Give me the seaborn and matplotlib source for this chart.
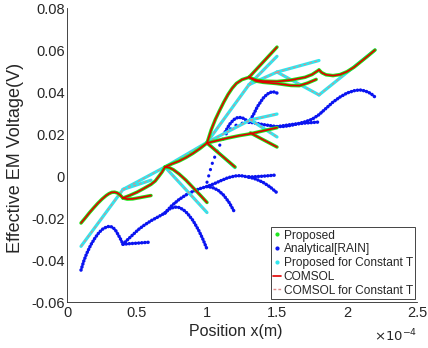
import numpy as np
import pandas as pd
import matplotlib
matplotlib.use("Agg")
import matplotlib.pyplot as plt
import seaborn as sns
from matplotlib.lines import Line2D
from matplotlib.ticker import FuncFormatter

# ---------------- data (x in units of 1e-4 m, y in V) ----------------
X_UNIT = 1e-4

# varying temperature tree: "Proposed" (green markers) and "COMSOL" (red line)
varT_segments = [
    [(0.10, -0.0224), (0.13, -0.0200), (0.16, -0.0175), (0.19, -0.0152), (0.22, -0.0130),
     (0.25, -0.0110), (0.28, -0.0093), (0.30, -0.0084), (0.32, -0.0078), (0.34, -0.0077),
     (0.36, -0.0081), (0.38, -0.0091), (0.40, -0.0105)],
    [(0.40, -0.0105), (0.43, -0.0110), (0.47, -0.0109), (0.52, -0.0103), (0.56, -0.0098),
     (0.60, -0.0093)],
    [(0.40, -0.0105), (0.45, -0.0092), (0.50, -0.0077), (0.55, -0.0059), (0.60, -0.0040),
     (0.63, -0.0024), (0.66, 0.0002), (0.68, 0.0020), (0.70, 0.0043)],
    [(0.70, 0.0043), (0.73, 0.0040), (0.76, 0.0030), (0.80, 0.0010), (0.85, -0.0020),
     (0.90, -0.0055), (0.95, -0.0090), (1.00, -0.0126)],
    [(0.70, 0.0043), (0.75, 0.0058), (0.80, 0.0071), (0.85, 0.0088), (0.90, 0.0108),
     (0.95, 0.0131), (1.00, 0.0157)],
    [(1.00, 0.0157), (1.20, 0.0043)],
    [(1.00, 0.0157), (1.03, 0.0220), (1.06, 0.0270), (1.09, 0.0312), (1.12, 0.0352),
     (1.15, 0.0388), (1.18, 0.0418), (1.21, 0.0441), (1.25, 0.0459), (1.30, 0.0470)],
    [(1.30, 0.0470), (1.50, 0.0614)],
    [(1.30, 0.0470), (1.35, 0.0457), (1.40, 0.0452), (1.50, 0.0450), (1.60, 0.0457),
     (1.70, 0.0470), (1.75, 0.0483), (1.80, 0.0505)],
    [(1.30, 0.0470), (1.35, 0.0452), (1.40, 0.0446), (1.50, 0.0440), (1.60, 0.0431),
     (1.66, 0.0430), (1.72, 0.0443), (1.78, 0.0460)],
    [(1.80, 0.0505), (1.82, 0.0492), (1.85, 0.0482), (1.90, 0.0478), (1.95, 0.0483),
     (2.00, 0.0497), (2.05, 0.0518), (2.10, 0.0545), (2.15, 0.0572), (2.20, 0.0600)],
    [(1.00, 0.0157), (1.08, 0.0170), (1.15, 0.0181), (1.23, 0.0192), (1.31, 0.0201),
     (1.40, 0.0215), (1.50, 0.0230)],
    [(1.31, 0.0205), (1.50, 0.0138)],
]

# constant temperature tree: "Proposed for Constant T" (cyan) and "COMSOL for Constant T" (dashed)
constT_segments = [
    [(0.10, -0.0335), (0.40, -0.0064)],
    [(0.40, -0.0064), (0.70, 0.0043)],
    [(0.40, -0.0064), (0.60, -0.0020)],
    [(0.70, 0.0043), (1.00, -0.0174)],
    [(0.70, 0.0043), (1.00, 0.0160)],
    [(1.00, 0.0160), (1.20, 0.0040)],
    [(1.00, 0.0160), (1.30, 0.0435)],
    [(1.30, 0.0435), (1.50, 0.0570)],
    [(1.30, 0.0435), (1.50, 0.0495)],
    [(1.50, 0.0495), (1.80, 0.0550)],
    [(1.50, 0.0495), (1.80, 0.0386)],
    [(1.80, 0.0386), (2.20, 0.0600)],
    [(1.00, 0.0160), (1.31, 0.0267)],
    [(1.31, 0.0267), (1.50, 0.0295)],
    [(1.31, 0.0267), (1.50, 0.0186)],
]

# analytical [RAIN] (blue dots)
rain_segments = [
    [(0.10, -0.0448), (0.12, -0.0405), (0.14, -0.0370), (0.17, -0.0328), (0.20, -0.0295),
     (0.23, -0.0268), (0.26, -0.0250), (0.29, -0.0241), (0.31, -0.0240), (0.33, -0.0246),
     (0.35, -0.0262), (0.37, -0.0285), (0.39, -0.0310), (0.40, -0.0325)],
    [(0.40, -0.0325), (0.45, -0.0322), (0.50, -0.0320), (0.55, -0.0317), (0.60, -0.0315)],
    [(0.40, -0.0325), (0.43, -0.0305), (0.47, -0.0280), (0.51, -0.0255), (0.55, -0.0235),
     (0.60, -0.0213), (0.65, -0.0195), (0.70, -0.0176)],
    [(0.70, -0.0176), (0.72, -0.0163), (0.74, -0.0154), (0.77, -0.0148), (0.80, -0.0150),
     (0.83, -0.0160), (0.86, -0.0178), (0.90, -0.0212), (0.94, -0.0258), (0.97, -0.0300),
     (1.00, -0.0348)],
    [(0.70, -0.0176), (0.75, -0.0140), (0.80, -0.0112), (0.85, -0.0090), (0.90, -0.0073),
     (0.95, -0.0060), (1.00, -0.0050), (1.05, -0.0037), (1.10, -0.0022), (1.15, -0.0008),
     (1.20, 0.0000), (1.24, 0.0002), (1.27, -0.0002), (1.30, -0.0005)],
    [(1.00, -0.0050), (1.04, -0.0055), (1.08, -0.0068), (1.12, -0.0092), (1.16, -0.0128),
     (1.20, -0.0176)],
    [(1.30, -0.0005), (1.35, -0.0003), (1.40, -0.0001), (1.45, 0.0002), (1.50, 0.0005)],
    [(1.30, -0.0005), (1.35, -0.0015), (1.40, -0.0030), (1.45, -0.0052), (1.50, -0.0080)],
    [(1.13, 0.0210), (1.16, 0.0245), (1.19, 0.0268), (1.22, 0.0279), (1.25, 0.0278),
     (1.28, 0.0266), (1.30, 0.0257)],
    [(1.30, 0.0257), (1.33, 0.0290), (1.36, 0.0330), (1.40, 0.0370), (1.43, 0.0390),
     (1.46, 0.0400), (1.48, 0.0400), (1.50, 0.0395)],
    [(1.30, 0.0257), (1.35, 0.0251), (1.40, 0.0245), (1.45, 0.0240), (1.50, 0.0235)],
    [(1.50, 0.0235), (1.55, 0.0236), (1.60, 0.0241), (1.65, 0.0249), (1.70, 0.0258),
     (1.75, 0.0270), (1.80, 0.0292), (1.85, 0.0322), (1.90, 0.0352), (1.95, 0.0376),
     (2.00, 0.0395), (2.05, 0.0406), (2.09, 0.0410), (2.13, 0.0405), (2.17, 0.0393),
     (2.20, 0.0376)],
    [(1.50, 0.0235), (1.60, 0.0245), (1.70, 0.0252), (1.80, 0.0257)],
]
# steep analytical branch (sparse dots)
rain_steep_segment = [(1.00, -0.0030), (1.02, 0.0020), (1.04, 0.0065), (1.07, 0.0115),
                      (1.10, 0.0160), (1.13, 0.0195), (1.17, 0.0225), (1.21, 0.0243),
                      (1.26, 0.0253), (1.30, 0.0257)]

x_ticks = [0, 0.5, 1, 1.5, 2, 2.5]
y_ticks = [-0.06, -0.04, -0.02, 0, 0.02, 0.04, 0.06, 0.08]
y_tick_labels = ["-0.06", "-0.04", "-0.02", "0", "0.02", "0.04", "0.06", "0.08"]
legend_labels = ["Proposed", "Analytical[RAIN]", "Proposed for Constant T", "COMSOL",
                 "COMSOL for Constant T"]


def to_frame(segments):
    rows = []
    for i, seg in enumerate(segments):
        for j, (x, y) in enumerate(seg):
            rows.append({"seg": i, "order": j, "x": x * X_UNIT, "y": y})
    return pd.DataFrame(rows)


df_var = to_frame(varT_segments)
df_const = to_frame(constT_segments)
df_rain = to_frame(rain_segments)
df_steep = to_frame([rain_steep_segment])

sns.set_style("white")
plt.rcParams["font.family"] = ["Liberation Sans", "DejaVu Sans"]

fig = plt.figure(figsize=(4.28, 3.48), dpi=100)
ax = fig.add_axes([67 / 428, 1 - 302 / 348, 350 / 428, 294 / 348])

C_GREEN = "#1ee61e"
C_RED = "#e00000"
C_CYAN = "#30e6ee"
C_BLUE = "#0a14f0"
C_PINK = "#e08888"

common = dict(x="x", y="y", units="seg", estimator=None, sort=False, ax=ax, legend=False)

# analytical blue dots
sns.lineplot(data=df_rain, color=C_BLUE, lw=2.5, linestyle=(0, (0.05, 0.85)), zorder=2, **common)
sns.lineplot(data=df_steep, color=C_BLUE, lw=2.3, linestyle=(0, (0.05, 2.0)), zorder=2, **common)
for line in ax.lines:
    line.set_dash_capstyle("round")

# constant T: cyan markers + pink dashed COMSOL
sns.lineplot(data=df_const, color=C_CYAN, lw=2.3, zorder=3, **common)
sns.lineplot(data=df_const, color=C_PINK, lw=0.8, linestyle=(0, (2.5, 2.5)), zorder=4, **common)

# varying T: green markers + red COMSOL
sns.lineplot(data=df_var, color=C_GREEN, lw=2.5, zorder=5, **common)
sns.lineplot(data=df_var, color=C_RED, lw=1.2, zorder=6, **common)

ax.set_xlim(0, 2.5 * X_UNIT)
ax.set_ylim(-0.06, 0.08)
ax.set_xticks([t * X_UNIT for t in x_ticks])
ax.xaxis.set_major_formatter(FuncFormatter(lambda v, p: f"{v / X_UNIT:g}"))
ax.set_yticks(y_ticks)
ax.set_yticklabels(y_tick_labels)

for s in ["top", "right"]:
    ax.spines[s].set_visible(False)
for s in ["left", "bottom"]:
    ax.spines[s].set_color("#262626")
    ax.spines[s].set_linewidth(0.6)
ax.tick_params(direction="in", length=3.5, width=0.6, colors="#262626",
               labelsize=10.5, labelcolor="#262626")
ax.tick_params(axis="y", pad=1.5)
ax.tick_params(axis="x", pad=3)

ax.set_xlabel("Position x(m)", fontsize=11.5, color="#262626")
ax.xaxis.set_label_coords(0.482, -0.075)
ax.set_ylabel("Effective EM Voltage(V)", fontsize=13, color="#262626", va="center")
ax.yaxis.set_label_coords(-0.148, 0.49)
ax.text(1.0, -0.088, r"$\times10^{-4}$", transform=ax.transAxes, ha="right", va="top",
        fontsize=9.5, color="#262626")

handles = [
    Line2D([], [], color=C_GREEN, marker=".", ls="none", markersize=4),
    Line2D([], [], color=C_BLUE, marker=".", ls="none", markersize=4),
    Line2D([], [], color=C_CYAN, marker=".", ls="none", markersize=4),
    Line2D([], [], color=C_RED, lw=1.2),
    Line2D([], [], color=C_PINK, lw=1.0, ls=(0, (2, 1.5))),
]
leg = ax.legend(handles, legend_labels, loc="lower right", bbox_to_anchor=(0.995, 0.01),
                fontsize=8.6, frameon=True, fancybox=False, framealpha=1,
                edgecolor="#262626", handlelength=0.7, handletextpad=0.2,
                labelspacing=0.15, borderpad=0.2, borderaxespad=0.0)
leg.get_frame().set_linewidth(0.6)

fig.savefig("out.png", dpi=100, facecolor="white")
